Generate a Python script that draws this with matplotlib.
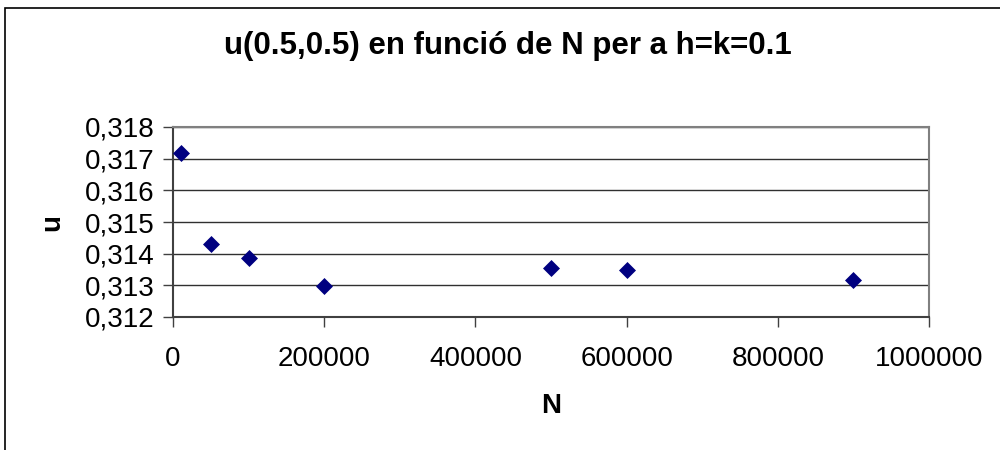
import matplotlib
matplotlib.use("Agg")
import matplotlib.pyplot as plt
from matplotlib.patches import Rectangle
from matplotlib.ticker import FuncFormatter, MultipleLocator

plt.rcParams['font.family'] = ['Liberation Sans', 'DejaVu Sans']

N_values = [10000, 50000, 100000, 200000, 500000, 600000, 900000]
u_values = [0.31717, 0.31430, 0.31387, 0.31299, 0.31354, 0.31349, 0.31318]
title = "u(0.5,0.5) en funció de N per a h=k=0.1"
x_label = "N"
y_label = "u"

fig = plt.figure(figsize=(10, 4.5), dpi=100)
fig.patch.set_facecolor('white')
# outer chart border
fig.patches.append(Rectangle((5/1000, -0.05), 1.2, 1 - 8/450 + 0.05,
                             transform=fig.transFigure, fill=False,
                             edgecolor='black', linewidth=1.2))

ax = fig.add_axes([173/1000, 1 - 317/450, (929-173)/1000, (317-127)/450])
ax.scatter(N_values, u_values, marker='D', s=75, color='#000080', zorder=3,
           linewidths=0)

ax.set_xlim(0, 1000000)
ax.set_ylim(0.312, 0.318)
ax.xaxis.set_major_locator(MultipleLocator(200000))
ax.yaxis.set_major_locator(MultipleLocator(0.001))
ax.yaxis.set_major_formatter(FuncFormatter(lambda v, p: f"{v:.3f}".replace('.', ',')))
ax.xaxis.set_major_formatter(FuncFormatter(lambda v, p: f"{int(round(v))}"))

ax.grid(axis='y', color='#303030', linewidth=1)
ax.set_axisbelow(True)
for s in ['top', 'right']:
    ax.spines[s].set_color('#808080')
    ax.spines[s].set_linewidth(1.5)
for s in ['left', 'bottom']:
    ax.spines[s].set_color('#404040')
    ax.spines[s].set_linewidth(1.5)

ax.tick_params(axis='both', direction='out', length=7, width=1, color='#404040',
               labelsize=20, pad=6)
ax.tick_params(axis='x', pad=14)

fig.text(508/1000, 1 - 46/450, title, ha='center', va='center',
         fontsize=22.5, fontweight='bold')
fig.text(551/1000, 1 - 406/450, x_label, ha='center', va='center',
         fontsize=20, fontweight='bold')
fig.text(52/1000, 1 - 222/450, y_label, ha='center', va='center',
         fontsize=20, fontweight='bold', rotation=90)

fig.savefig("out.png", dpi=100, facecolor='white')
